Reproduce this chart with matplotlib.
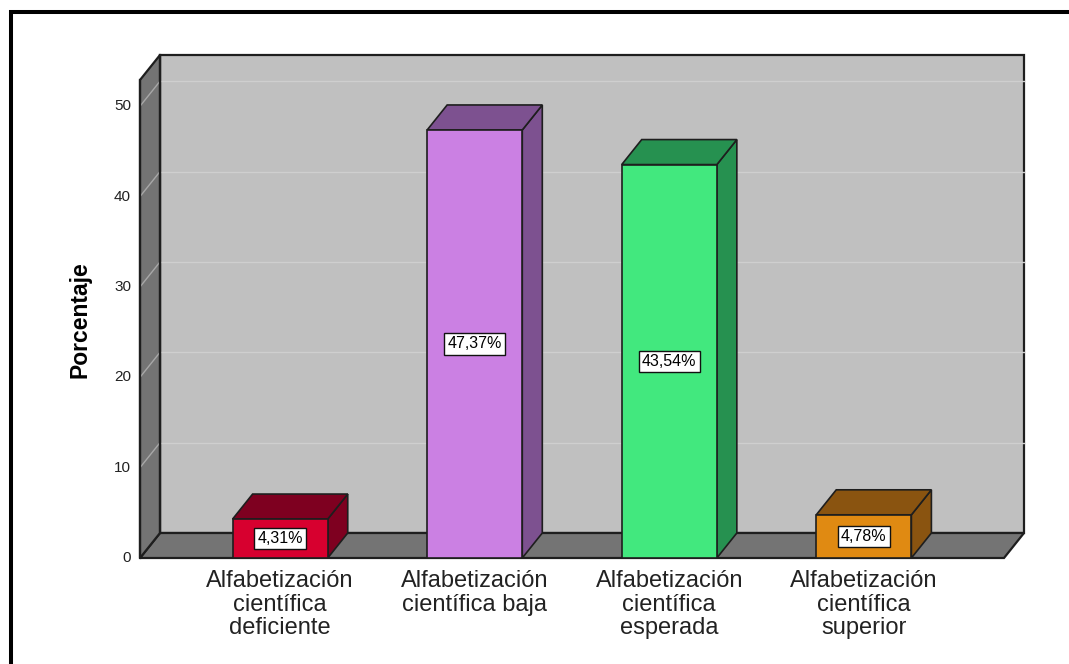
import matplotlib
matplotlib.use("Agg")
import matplotlib.pyplot as plt
from matplotlib.patches import Polygon
from matplotlib.lines import Line2D

# --- data -------------------------------------------------------------
categories = [
    "Alfabetización\ncientífica\ndeficiente",
    "Alfabetización\ncientífica baja",
    "Alfabetización\ncientífica\nesperada",
    "Alfabetización\ncientífica\nsuperior",
]
percentages = [4.31, 47.37, 43.54, 4.78]
value_labels = ["4,31%", "47,37%", "43,54%", "4,78%"]
y_ticks = [0, 10, 20, 30, 40, 50]
y_label = "Porcentaje"

front_colors = ["#D7002F", "#CB80E3", "#42E87E", "#E08A12"]
shade_colors = ["#7E0020", "#7D5190", "#269150", "#8A5410"]

plt.rcParams["font.family"] = ["Liberation Sans", "DejaVu Sans"]

W, H, DPI = 1069, 664, 100
fig = plt.figure(figsize=(W / DPI, H / DPI), dpi=DPI)
fig.patch.set_facecolor("white")

# front plane of the 3-D box
ax = fig.add_axes([140 / W, (H - 558) / H, 864 / W, (558 - 80) / H])
xmin, xmax = -0.7205, 3.7205
ymin, ymax = 0, 52.9
ax.set_xlim(xmin, xmax)
ax.set_ylim(ymin, ymax)
ax.axis("off")

# depth of the box (20 px right, 25 px up) expressed in data units
inv = ax.transData.inverted()
p0 = inv.transform((0, 0))
p1 = inv.transform((20, 25))
ddx, ddy = p1[0] - p0[0], p1[1] - p0[1]

edge = "#1E1E1E"
wall_grey = "#C0C0C0"
side_grey = "#747474"
grid_col = "#CFCFCF"


def poly(pts, fc, ec=edge, lw=1.3, z=1):
    ax.add_patch(Polygon(pts, closed=True, facecolor=fc, edgecolor=ec,
                         linewidth=lw, zorder=z, clip_on=False,
                         joinstyle="miter"))


# back wall
poly([(xmin + ddx, ymin + ddy), (xmax + ddx, ymin + ddy),
      (xmax + ddx, ymax + ddy), (xmin + ddx, ymax + ddy)], wall_grey, lw=1.6, z=1)
# floor
poly([(xmin, ymin), (xmax, ymin), (xmax + ddx, ymin + ddy),
      (xmin + ddx, ymin + ddy)], side_grey, lw=1.6, z=2)
# left wall
poly([(xmin, ymin), (xmin + ddx, ymin + ddy), (xmin + ddx, ymax + ddy),
      (xmin, ymax)], side_grey, lw=1.6, z=2)

# grid lines on the back wall and the left wall, tick labels on the front edge
for t in y_ticks:
    if t > 0:
        ax.plot([xmin + ddx, xmax + ddx], [t + ddy, t + ddy], color=grid_col,
                lw=1.0, zorder=1.5, clip_on=False)
        ax.plot([xmin, xmin + ddx], [t, t + ddy], color="#A8A8A8",
                lw=1.0, zorder=2.5, clip_on=False)
    ax.annotate(str(t), (xmin, t), xytext=(-9, 0), textcoords="offset pixels",
                ha="right", va="center", fontsize=11, color="#222222",
                annotation_clip=False)

# redraw the dark edges over the grid lines
ax.plot([xmin + ddx, xmin + ddx], [ymin + ddy, ymax + ddy], color=edge, lw=1.6,
        zorder=2.6, clip_on=False)
ax.plot([xmin, xmin], [ymin, ymax], color=edge, lw=1.6, zorder=2.6, clip_on=False)

# 3-D bars
bar_w = 0.489
for i, (v, fc, sc, lab) in enumerate(zip(percentages, front_colors,
                                          shade_colors, value_labels)):
    left, right = i - bar_w / 2, i + bar_w / 2
    z = 3 + i * 0.1
    # side face
    poly([(right, 0), (right + ddx, ddy), (right + ddx, v + ddy), (right, v)],
         sc, lw=1.2, z=z)
    # top face
    poly([(left, v), (right, v), (right + ddx, v + ddy), (left + ddx, v + ddy)],
         sc, lw=1.2, z=z)
    # front face
    poly([(left, 0), (right, 0), (right, v), (left, v)], fc, lw=1.2, z=z + 0.01)
    ax.text(i, v / 2, lab, ha="center", va="center", fontsize=11.5,
            color="black", zorder=10,
            bbox=dict(boxstyle="square,pad=0.2", fc="white", ec="#111111", lw=1.0))

# category labels under the bars
for i, cat in enumerate(categories):
    ax.annotate(cat, (i, 0), xytext=(0, -12), textcoords="offset pixels",
                ha="center", va="top", fontsize=17, color="#222222",
                linespacing=1.1, annotation_clip=False)

# axis title
fig.text(80 / W, 1 - 320 / H, y_label, rotation=90, ha="center", va="center",
         fontsize=16.5, fontweight="bold", color="black")

# outer frame (top and left edges)
fig.add_artist(Line2D([9 / W, 1.0], [1 - 12 / H, 1 - 12 / H], color="black",
                      lw=2.9, transform=fig.transFigure, solid_capstyle="butt"))
fig.add_artist(Line2D([11 / W, 11 / W], [1 - 10 / H, 0.0], color="black",
                      lw=2.9, transform=fig.transFigure, solid_capstyle="butt"))

fig.savefig("out.png", dpi=DPI, facecolor="white")
